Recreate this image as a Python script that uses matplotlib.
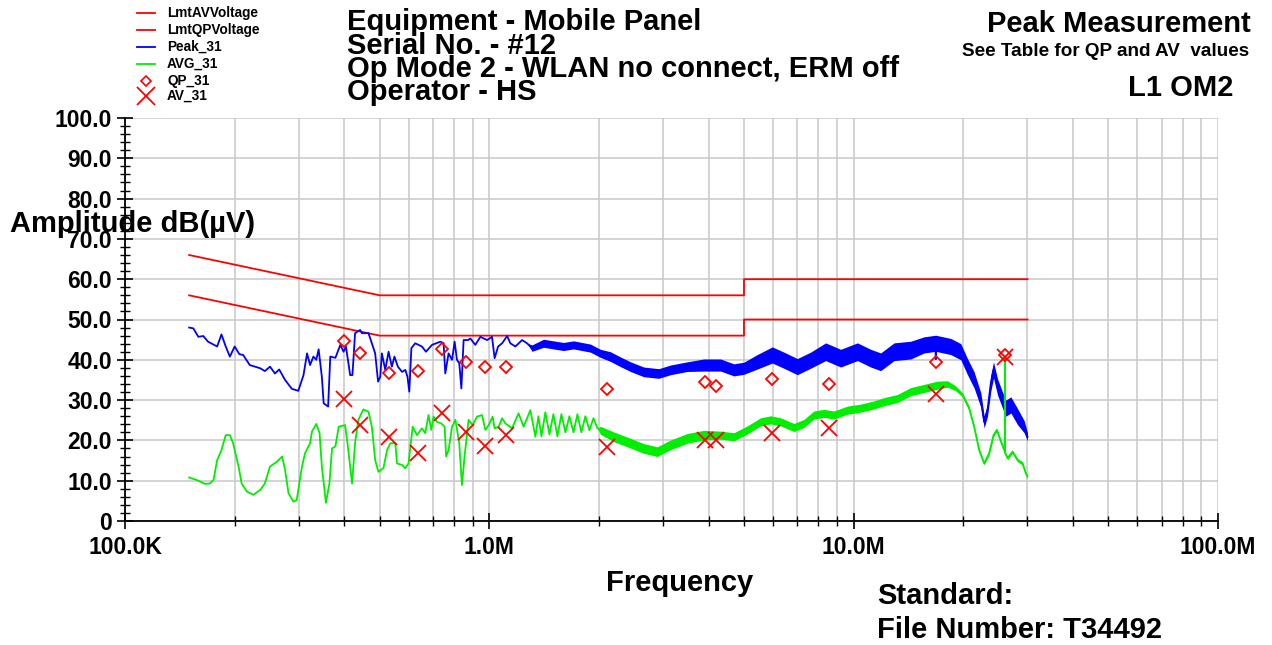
import numpy as np
import matplotlib
matplotlib.use("Agg")
import matplotlib.pyplot as plt
from matplotlib.lines import Line2D
from matplotlib.ticker import FixedLocator, NullFormatter

plt.rcParams['font.family'] = ['Liberation Sans', 'DejaVu Sans']
plt.rcParams['font.weight'] = 'bold'

# ---------------- data (frequency in MHz, level in dB(uV)) ----------------
lim_freq = [0.15, 0.5, 5.0, 5.0, 30.0]
lim_qp = [66, 56, 56, 60, 60]
lim_av = [56, 46, 46, 50, 50]

peak_freq = [0.150, 0.154, 0.159, 0.164, 0.169, 0.179, 0.184, 0.189, 0.194, 0.200,
             0.206, 0.211, 0.220, 0.235, 0.242, 0.250, 0.258, 0.265, 0.275, 0.287,
             0.299, 0.309, 0.316, 0.322, 0.329, 0.335, 0.340, 0.347, 0.351, 0.361,
             0.366, 0.378, 0.390, 0.398, 0.404, 0.415, 0.421, 0.428, 0.442, 0.447,
             0.466, 0.476, 0.486, 0.495, 0.502, 0.507, 0.518, 0.529, 0.540, 0.549,
             0.561, 0.576, 0.588, 0.596, 0.603, 0.611, 0.626, 0.653, 0.670, 0.696,
             0.734, 0.749, 0.757, 0.773, 0.790, 0.803, 0.815, 0.827, 0.838, 0.850,
             0.874, 0.887, 0.915, 0.945, 0.986, 1.017, 1.034, 1.057, 1.084, 1.119,
             1.142, 1.179, 1.230, 1.269, 1.310, 1.408, 1.597, 1.702, 1.894, 2.018,
             2.150, 2.291, 2.440, 2.654, 2.918, 3.143, 3.493, 3.880, 4.312, 4.691,
             4.996, 5.438, 5.979, 6.435, 7.003, 7.619, 8.377, 9.211, 10.24, 11.14,
             11.86, 12.91, 14.34, 15.61, 16.80, 16.80, 16.80, 18.47, 19.68, 20.53,
             21.41, 22.34, 22.81, 23.30, 23.79, 24.20, 24.82, 25.62, 26.16, 27.00,
             28.17, 29.37, 30.0]
peak_db = [48.0, 47.8, 45.7, 45.9, 44.5, 43.3, 46.3, 43.3, 40.8, 43.3,
           41.4, 41.2, 38.7, 37.9, 37.2, 38.3, 36.6, 37.6, 35.0, 32.8,
           32.3, 36.2, 41.6, 38.7, 40.8, 40.0, 42.6, 35.8, 29.2, 28.4,
           40.8, 40.5, 43.7, 42.0, 43.3, 36.2, 36.2, 46.6, 47.4, 46.6,
           46.6, 44.1, 41.6, 34.6, 35.8, 41.6, 37.5, 42.0, 38.3, 40.8,
           38.3, 37.0, 37.5, 35.8, 32.1, 42.9, 44.1, 43.3, 42.0, 43.7,
           44.5, 44.1, 36.6, 41.6, 40.0, 44.5, 40.0, 39.1, 32.9, 44.9,
           44.9, 45.3, 43.7, 45.7, 44.9, 45.7, 40.4, 43.3, 44.1, 45.9,
           44.1, 43.3, 44.9, 44.1, 42.9, 44.1, 43.3, 43.7, 42.9, 41.6,
           40.8, 39.5, 38.3, 37.0, 36.6, 37.5, 38.3, 38.7, 38.7, 37.5,
           37.9, 39.5, 41.2, 39.9, 38.3, 39.9, 42.0, 40.4, 42.0, 40.4,
           39.5, 42.0, 42.4, 43.7, 44.1, 40.2, 44.1, 43.3, 42.0, 38.3,
           35.0, 30.0, 24.6, 27.5, 34.2, 37.5, 33.3, 30.0, 28.0, 28.8,
           25.9, 23.4, 20.9]
# half-width of the dense noise band around the peak trace
peak_noise = [0]*84 + [0.8, 1.0, 1.0, 1.0, 1.0, 1.0,
              1.2, 1.2, 1.2, 1.2, 1.2, 1.2, 1.2, 1.5, 1.5, 1.5,
              1.5, 1.8, 2.0, 2.0, 2.0, 2.0, 2.2, 2.2, 2.2, 2.2,
              2.2, 2.2, 2.2, 2.0, 2.0, 0.0, 2.0, 2.0, 2.0, 2.0,
              2.0, 1.8, 1.5, 1.5, 2.0, 2.0, 2.0, 2.0, 2.0, 2.0,
              2.0, 1.5, 1.0]

avg_freq = [0.150, 0.157, 0.166, 0.171, 0.175, 0.179, 0.184, 0.189, 0.194, 0.198,
            0.205, 0.209, 0.216, 0.225, 0.235, 0.242, 0.250, 0.261, 0.270, 0.275,
            0.281, 0.290, 0.296, 0.306, 0.312, 0.322, 0.326, 0.335, 0.342, 0.347,
            0.356, 0.364, 0.370, 0.378, 0.386, 0.394, 0.402, 0.409, 0.420, 0.428,
            0.437, 0.451, 0.466, 0.476, 0.486, 0.496, 0.512, 0.524, 0.535, 0.552,
            0.558, 0.576, 0.588, 0.600, 0.616, 0.633, 0.653, 0.667, 0.681, 0.693,
            0.703, 0.718, 0.738, 0.754, 0.761, 0.773, 0.790, 0.807, 0.827, 0.841,
            0.855, 0.877, 0.900, 0.925, 0.955, 0.975, 0.996, 1.021, 1.034, 1.061,
            1.084, 1.107, 1.154, 1.203, 1.242, 1.296, 1.338, 1.364, 1.390, 1.425,
            1.462, 1.499, 1.538, 1.577, 1.617, 1.659, 1.702, 1.745, 1.789, 1.835,
            1.882, 1.931, 1.981, 2.018, 2.195, 2.440, 2.654, 2.889, 3.143, 3.493,
            3.880, 4.312, 4.691, 5.105, 5.553, 5.915, 6.302, 6.855, 7.302, 7.779,
            8.287, 8.828, 9.611, 10.45, 11.37, 12.11, 13.19, 14.34, 15.61, 16.98,
            18.09, 19.06, 19.89, 20.74, 21.41, 22.10, 22.81, 23.54, 24.20, 24.71,
            25.46, 25.99, 26.00, 26.01, 26.44, 27.29, 28.17, 29.07, 29.69, 30.0]
avg_db = [10.8, 10.2, 9.2, 9.3, 10.2, 15.1, 17.6, 21.3, 21.3, 19.3,
          13.5, 9.3, 7.3, 6.5, 7.7, 9.3, 13.5, 14.7, 16.0, 12.7,
          6.9, 4.8, 5.2, 13.5, 16.8, 19.3, 22.2, 24.1, 21.8, 13.5,
          4.5, 9.3, 18.0, 18.5, 23.4, 23.6, 23.8, 18.5, 9.3, 19.3,
          25.1, 27.7, 27.1, 23.4, 15.1, 12.2, 13.1, 17.6, 19.3, 19.3,
          14.3, 13.9, 13.1, 14.3, 23.4, 21.3, 23.0, 21.8, 26.3, 22.6,
          25.9, 24.6, 24.2, 23.4, 16.0, 17.6, 23.4, 25.1, 19.3, 8.9,
          16.0, 25.1, 23.8, 25.9, 26.3, 22.6, 23.8, 25.9, 23.0, 23.4,
          25.5, 24.2, 23.0, 26.7, 23.4, 27.5, 20.9, 26.0, 21.0, 27.0,
          21.5, 26.5, 21.0, 26.5, 22.0, 26.0, 22.0, 26.5, 22.0, 26.0,
          22.5, 25.5, 23.0, 22.5, 20.9, 19.3, 18.0, 17.2, 18.9, 20.5,
          21.3, 21.3, 20.9, 22.6, 24.6, 25.1, 24.6, 23.2, 24.2, 26.3,
          26.7, 26.3, 27.5, 28.0, 28.8, 29.6, 30.4, 32.1, 32.9, 33.7,
          34.0, 32.9, 31.3, 28.0, 23.4, 17.6, 14.3, 16.8, 21.3, 22.6,
          19.3, 17.2, 40.8, 17.0, 15.6, 17.2, 15.1, 14.3, 11.8, 11.0]
avg_noise = [0]*103 + [1.0, 1.2, 1.2, 1.2, 1.2, 1.2, 1.2,
             1.2, 1.0, 1.0, 1.0, 1.0, 1.0, 1.0, 1.0, 1.0, 1.0,
             1.0, 1.0, 1.0, 1.0, 1.0, 1.0, 1.0, 1.0, 1.0, 1.0,
             0.8, 0.6, 0.5, 0.5, 0.4, 0.4, 0.4, 0.4, 0.4, 0.4,
             0.4, 0.4, 0.0, 0.4, 0.4, 0.4, 0.4, 0.4, 0.4, 0.4]

qp_freq = [0.40, 0.442, 0.530, 0.637, 0.740, 0.863, 0.975, 1.11, 2.10, 3.90, 4.19,
           5.98, 8.53, 16.8, 26.0]
qp_db = [44.7, 41.6, 36.8, 37.1, 42.6, 39.4, 38.1, 38.1, 32.8, 34.6, 33.6,
         35.3, 34.1, 39.5, 41.2]
av_freq = qp_freq
av_db = [30.3, 23.8, 20.9, 16.9, 26.9, 22.0, 18.6, 21.3, 18.3, 20.1, 20.1,
         21.8, 23.0, 31.4, 40.8]

x_major = [0.1, 1.0, 10.0, 100.0]
x_labels = ["100.0K", "1.0M", "10.0M", "100.0M"]
y_major = list(range(0, 101, 10))
y_labels = ["0"] + ["%.1f" % v for v in y_major[1:]]

legend_names = ["LmtAVVoltage", "LmtQPVoltage", "Peak_31", "AVG_31", "QP_31", "AV_31"]

title_lines = ["Equipment - Mobile Panel", "Serial No. - #12",
               "Op Mode 2 - WLAN no connect, ERM off", "Operator - HS"]

# ---------------- figure ----------------
W, H = 1272, 645
fig = plt.figure(figsize=(W / 100, H / 100), dpi=100)
fig.patch.set_facecolor('white')

def fx(x):
    return x / W

def fy(y):
    return 1 - y / H

ax = fig.add_axes([fx(125), fy(521), fx(1218) - fx(125), fy(118) - fy(521)])
ax.set_xscale('log')
ax.set_xlim(0.1, 100)
ax.set_ylim(0, 100)

RED = '#ff0000'
BLUE = '#0000ff'
GREEN = '#00ee00'

# grid
ax.set_axisbelow(True)
ax.grid(True, which='major', axis='y', color='#c8c8c8', lw=1.1)
ax.grid(True, which='both', axis='x', color='#c8c8c8', lw=1.1)

# limits
ax.plot(lim_freq, lim_qp, color=RED, lw=1.3, zorder=3)
ax.plot(lim_freq, lim_av, color=RED, lw=1.3, zorder=3)

# traces
pf = np.array(peak_freq); pdb = np.array(peak_db); pn = np.array(peak_noise)
ax.fill_between(pf, pdb - pn, pdb + pn, color=BLUE, lw=0, zorder=4)
ax.plot(pf, pdb, color=BLUE, lw=1.3, zorder=4)

af = np.array(avg_freq); adb = np.array(avg_db); an = np.array(avg_noise)
ax.fill_between(af, adb - an, adb + an, color=GREEN, lw=0, zorder=4)
ax.plot(af, adb, color=GREEN, lw=1.3, zorder=4)

# markers
ax.plot(qp_freq, qp_db, ls='none', marker='D', ms=6.3, mfc='none', mec=RED, mew=1.3, zorder=5)
ax.plot(av_freq, av_db, ls='none', marker='x', ms=12, mec=RED, mew=1.3, zorder=5)

# axes styling
for s in ['top', 'right']:
    ax.spines[s].set_visible(False)
for s in ['left', 'bottom']:
    ax.spines[s].set_linewidth(1.3)
    ax.spines[s].set_zorder(6)

ax.xaxis.set_major_locator(FixedLocator(x_major))
ax.set_xticklabels(x_labels)
x_minor = [m * d for d in [0.1, 1.0, 10.0] for m in range(2, 10)]
ax.xaxis.set_minor_locator(FixedLocator(x_minor))
ax.xaxis.set_minor_formatter(NullFormatter())
ax.yaxis.set_major_locator(FixedLocator(y_major))
ax.set_yticklabels(y_labels)
ax.yaxis.set_minor_locator(FixedLocator([v for v in range(0, 101, 2) if v % 10]))

ax.tick_params(axis='both', which='major', direction='inout', length=11, width=1.2,
               labelsize=16.5, colors='black')
ax.tick_params(axis='both', which='minor', direction='inout', length=6.5, width=1.0)
ax.tick_params(axis='x', which='major', pad=5)
ax.tick_params(axis='y', which='major', pad=4)
for lab in ax.get_xticklabels() + ax.get_yticklabels():
    lab.set_fontweight('bold')

# axis titles
fig.text(fx(10), fy(232), "Amplitude dB(µV)", fontsize=21, fontweight='bold',
         ha='left', va='baseline')
fig.text(fx(680), fy(591), "Frequency", fontsize=21, fontweight='bold',
         ha='center', va='baseline')

# header
for i, t in enumerate(title_lines):
    fig.text(fx(347), fy(30 + 23.5 * i), t, fontsize=21, fontweight='bold',
             ha='left', va='baseline')
fig.text(fx(1251), fy(32), "Peak Measurement", fontsize=21, fontweight='bold',
         ha='right', va='baseline')
fig.text(fx(1249), fy(56), "See Table for QP and AV  values", fontsize=13.6,
         fontweight='bold', ha='right', va='baseline')
fig.text(fx(1233), fy(96), "L1 OM2", fontsize=21, fontweight='bold',
         ha='right', va='baseline')
fig.text(fx(877), fy(604), "Standard:", fontsize=21, fontweight='bold',
         ha='left', va='baseline')
fig.text(fx(877), fy(638), "File Number: T34492", fontsize=21, fontweight='bold',
         ha='left', va='baseline')

# legend (drawn manually)
rows = [13, 30, 47, 64, 80.5, 96]
styles = [('line', RED), ('line', RED), ('line', BLUE), ('line', GREEN),
          ('D', RED), ('x', RED)]
for name, yy, (kind, col) in zip(legend_names, rows, styles):
    if kind == 'line':
        fig.add_artist(Line2D([fx(137), fx(155)], [fy(yy), fy(yy)], color=col, lw=1.3,
                              transform=fig.transFigure))
    elif kind == 'D':
        fig.add_artist(Line2D([fx(146)], [fy(yy)], ls='none', marker='D', ms=5, mfc='none',
                              mec=col, mew=1.2, transform=fig.transFigure))
    else:
        fig.add_artist(Line2D([fx(146)], [fy(yy)], ls='none', marker='x', ms=13,
                              mec=col, mew=1.3, transform=fig.transFigure))
    fig.text(fx(167), fy(yy), name, fontsize=9.8, fontweight='bold', ha='left', va='center')

fig.savefig('out.png', dpi=100, facecolor='white')
